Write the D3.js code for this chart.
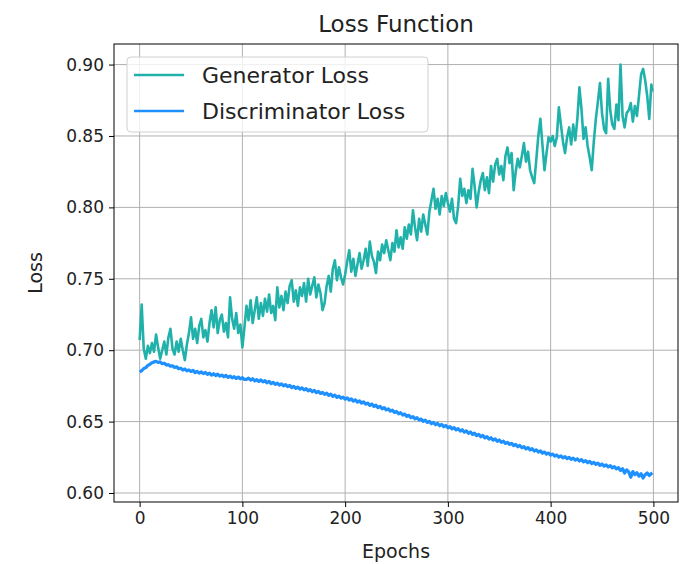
<!DOCTYPE html>
<html>
<head>
<meta charset="utf-8">
<script src="https://cdn.jsdelivr.net/npm/d3@7"></script>
<style>
  html, body { margin: 0; padding: 0; background: #fff; }
  svg { display: block; font-family: "DejaVu Sans", sans-serif; }
</style>
</head>
<body>
<svg id="chart" width="691" height="564"></svg>
<script>
// epoch index: every second epoch, plus the final epoch
const epochs = d3.range(0, 500, 2).concat([499]);

const generatorLoss = [
  0.707, 0.732, 0.701, 0.694, 0.703, 0.698, 0.705, 0.699, 0.711, 0.702,
  0.694, 0.700, 0.706, 0.697, 0.709, 0.715, 0.701, 0.697, 0.706, 0.699,
  0.708, 0.700, 0.693, 0.704, 0.712, 0.723, 0.708, 0.715, 0.705, 0.717,
  0.722, 0.709, 0.714, 0.706, 0.719, 0.728, 0.716, 0.730, 0.712, 0.721,
  0.725, 0.713, 0.719, 0.709, 0.737, 0.722, 0.715, 0.726, 0.712, 0.718,
  0.702, 0.716, 0.731, 0.721, 0.735, 0.719, 0.728, 0.737, 0.722, 0.733,
  0.724, 0.736, 0.727, 0.739, 0.726, 0.731, 0.721, 0.744, 0.730, 0.738,
  0.728, 0.741, 0.733, 0.745, 0.749, 0.734, 0.742, 0.731, 0.744, 0.738,
  0.747, 0.734, 0.750, 0.739, 0.745, 0.751, 0.737, 0.746, 0.740, 0.728,
  0.733, 0.745, 0.752, 0.741, 0.757, 0.763, 0.749, 0.758, 0.751, 0.746,
  0.753, 0.762, 0.770, 0.755, 0.764, 0.752, 0.760, 0.768, 0.757, 0.763,
  0.771, 0.759, 0.776, 0.766, 0.762, 0.754, 0.769, 0.763, 0.774, 0.768,
  0.777, 0.770, 0.763, 0.775, 0.769, 0.784, 0.772, 0.779, 0.771, 0.786,
  0.778, 0.788, 0.781, 0.798, 0.786, 0.777, 0.792, 0.783, 0.795, 0.788,
  0.781, 0.797, 0.805, 0.813, 0.799, 0.806, 0.795, 0.808, 0.801, 0.810,
  0.803, 0.797, 0.806, 0.792, 0.789, 0.801, 0.820, 0.808, 0.813, 0.803,
  0.812, 0.806, 0.827, 0.815, 0.800, 0.811, 0.819, 0.824, 0.812, 0.821,
  0.810, 0.829, 0.818, 0.830, 0.834, 0.823, 0.829, 0.819, 0.836, 0.842,
  0.831, 0.838, 0.812, 0.825, 0.834, 0.828, 0.836, 0.845, 0.832, 0.839,
  0.826, 0.821, 0.817, 0.833, 0.850, 0.862, 0.844, 0.826, 0.838, 0.849,
  0.846, 0.850, 0.843, 0.849, 0.870, 0.858, 0.846, 0.838, 0.849, 0.856,
  0.844, 0.858, 0.847, 0.862, 0.884, 0.869, 0.848, 0.856, 0.843, 0.835,
  0.826, 0.846, 0.862, 0.874, 0.887, 0.866, 0.855, 0.852, 0.890, 0.868,
  0.858, 0.855, 0.872, 0.861, 0.900, 0.864, 0.856, 0.866, 0.868, 0.873,
  0.860, 0.871, 0.864, 0.878, 0.893, 0.897, 0.889, 0.878, 0.862, 0.886,
  0.881];

const discriminatorLoss = [
  0.6848, 0.6856, 0.6872, 0.6878, 0.6893, 0.6901, 0.6912, 0.6918, 0.6922, 0.6914,
  0.6918, 0.6905, 0.6909, 0.6896, 0.6899, 0.6887, 0.6891, 0.6879, 0.6884, 0.6870,
  0.6874, 0.6861, 0.6868, 0.6855, 0.6862, 0.6851, 0.6858, 0.6843, 0.6852, 0.6839,
  0.6848, 0.6836, 0.6844, 0.6831, 0.6840, 0.6826, 0.6835, 0.6822, 0.6832, 0.6818,
  0.6826, 0.6814, 0.6823, 0.6809, 0.6819, 0.6806, 0.6815, 0.6802, 0.6812, 0.6799,
  0.6807, 0.6795, 0.6796, 0.6804, 0.6791, 0.6800, 0.6785, 0.6794, 0.6781, 0.6792,
  0.6778, 0.6786, 0.6772, 0.6781, 0.6766, 0.6775, 0.6761, 0.6770, 0.6756, 0.6764,
  0.6751, 0.6759, 0.6745, 0.6753, 0.6738, 0.6747, 0.6733, 0.6742, 0.6727, 0.6736,
  0.6722, 0.6730, 0.6716, 0.6724, 0.6709, 0.6718, 0.6703, 0.6712, 0.6697, 0.6704,
  0.6691, 0.6699, 0.6684, 0.6692, 0.6677, 0.6686, 0.6670, 0.6679, 0.6664, 0.6672,
  0.6657, 0.6666, 0.6650, 0.6659, 0.6643, 0.6652, 0.6636, 0.6645, 0.6629, 0.6638,
  0.6622, 0.6630, 0.6614, 0.6623, 0.6606, 0.6615, 0.6598, 0.6607, 0.6590, 0.6598,
  0.6582, 0.6589, 0.6573, 0.6580, 0.6564, 0.6571, 0.6555, 0.6562, 0.6546, 0.6553,
  0.6537, 0.6544, 0.6528, 0.6535, 0.6519, 0.6527, 0.6511, 0.6518, 0.6502, 0.6510,
  0.6494, 0.6502, 0.6486, 0.6494, 0.6478, 0.6487, 0.6471, 0.6480, 0.6464, 0.6473,
  0.6457, 0.6465, 0.6449, 0.6458, 0.6442, 0.6450, 0.6434, 0.6443, 0.6426, 0.6435,
  0.6418, 0.6427, 0.6410, 0.6419, 0.6402, 0.6411, 0.6394, 0.6403, 0.6386, 0.6395,
  0.6378, 0.6387, 0.6370, 0.6379, 0.6362, 0.6371, 0.6355, 0.6363, 0.6347, 0.6355,
  0.6340, 0.6348, 0.6332, 0.6340, 0.6324, 0.6333, 0.6317, 0.6325, 0.6309, 0.6318,
  0.6302, 0.6310, 0.6294, 0.6302, 0.6287, 0.6295, 0.6279, 0.6287, 0.6272, 0.6280,
  0.6265, 0.6273, 0.6258, 0.6266, 0.6251, 0.6260, 0.6246, 0.6254, 0.6240, 0.6249,
  0.6236, 0.6244, 0.6230, 0.6239, 0.6224, 0.6233, 0.6218, 0.6227, 0.6212, 0.6221,
  0.6206, 0.6215, 0.6200, 0.6209, 0.6194, 0.6203, 0.6188, 0.6197, 0.6182, 0.6191,
  0.6176, 0.6184, 0.6169, 0.6177, 0.6158, 0.6170, 0.6140, 0.6162, 0.6148, 0.6110,
  0.6150, 0.6128, 0.6142, 0.6118, 0.6135, 0.6105, 0.6128, 0.6140, 0.6122, 0.6136,
  0.6141];

const xTicks = [0, 100, 200, 300, 400, 500];
const yTicks = [0.60, 0.65, 0.70, 0.75, 0.80, 0.85, 0.90];
const seriesNames = ["Generator Loss", "Discriminator Loss"];
const seriesColors = ["#20b2aa", "#1e90ff"];

const svg = d3.select("#chart");
const margin = {left: 114, right: 691 - 678, top: 44, bottom: 564 - 502};
const W = 691, H = 564;

const x = d3.scaleLinear().domain([-24.95, 523.95]).range([margin.left, W - margin.right]);
const y = d3.scaleLinear().domain([0.5937, 0.9144]).range([H - margin.bottom, margin.top]);

// grid
const grid = svg.append("g");
grid.selectAll(".gx").data(xTicks).enter().append("line")
  .attr("x1", d => x(d)).attr("x2", d => x(d))
  .attr("y1", margin.top).attr("y2", H - margin.bottom)
  .attr("stroke", "#b0b0b0").attr("stroke-width", 1);
grid.selectAll(".gy").data(yTicks).enter().append("line")
  .attr("x1", margin.left).attr("x2", W - margin.right)
  .attr("y1", d => y(d)).attr("y2", d => y(d))
  .attr("stroke", "#b0b0b0").attr("stroke-width", 1);

// lines
const series = [generatorLoss, discriminatorLoss];
const widths = [2.6, 3.2];
svg.append("clipPath").attr("id", "clip").append("rect")
  .attr("x", margin.left).attr("y", margin.top)
  .attr("width", W - margin.right - margin.left).attr("height", H - margin.bottom - margin.top);
series.forEach((s, k) => {
  const n = Math.min(s.length, epochs.length);
  const pts = d3.range(n).map(i => [epochs[i], s[i]]);
  svg.append("path").datum(pts)
    .attr("d", d3.line().x(d => x(d[0])).y(d => y(d[1])))
    .attr("fill", "none")
    .attr("stroke", seriesColors[k])
    .attr("stroke-width", widths[k])
    .attr("stroke-linejoin", "round")
    .attr("clip-path", "url(#clip)");
});

// axes
const xAxis = svg.append("g").attr("transform", `translate(0,${H - margin.bottom})`)
  .call(d3.axisBottom(x).tickValues(xTicks).tickFormat(d3.format("d")).tickSize(5).tickPadding(5));
const yAxis = svg.append("g").attr("transform", `translate(${margin.left},0)`)
  .call(d3.axisLeft(y).tickValues(yTicks).tickFormat(d3.format(".2f")).tickSize(5).tickPadding(5));
[xAxis, yAxis].forEach(a => {
  a.select(".domain").remove();
  a.selectAll(".tick line").attr("stroke", "#000");
  a.selectAll(".tick text").attr("fill", "#222").style("font-size", "17px").style("font-family", "DejaVu Sans");
});

// frame
svg.append("rect")
  .attr("x", margin.left).attr("y", margin.top)
  .attr("width", W - margin.right - margin.left).attr("height", H - margin.bottom - margin.top)
  .attr("fill", "none").attr("stroke", "#000").attr("stroke-width", 1);

// title and labels
svg.append("text").attr("x", (margin.left + W - margin.right) / 2).attr("y", 32)
  .attr("text-anchor", "middle").style("font-size", "23px").attr("fill", "#222").text("Loss Function");
svg.append("text").attr("x", (margin.left + W - margin.right) / 2).attr("y", 558)
  .attr("text-anchor", "middle").style("font-size", "19px").attr("fill", "#222").text("Epochs");
svg.append("text").attr("transform", `translate(42,${(margin.top + H - margin.bottom) / 2}) rotate(-90)`)
  .attr("text-anchor", "middle").style("font-size", "19px").attr("fill", "#222").text("Loss");

// legend
const lg = svg.append("g");
lg.append("rect").attr("x", 127).attr("y", 57).attr("width", 301).attr("height", 75)
  .attr("rx", 4).attr("fill", "#fff").attr("fill-opacity", 0.8).attr("stroke", "#d0d0d0");
seriesNames.forEach((n, k) => {
  const yy = 75 + k * 36;
  lg.append("line").attr("x1", 134).attr("x2", 184).attr("y1", yy).attr("y2", yy)
    .attr("stroke", seriesColors[k]).attr("stroke-width", 2.5);
  lg.append("text").attr("x", 202).attr("y", yy).attr("dy", "0.35em")
    .style("font-size", "22px").attr("fill", "#222").text(n);
});
</script>
</body>
</html>
